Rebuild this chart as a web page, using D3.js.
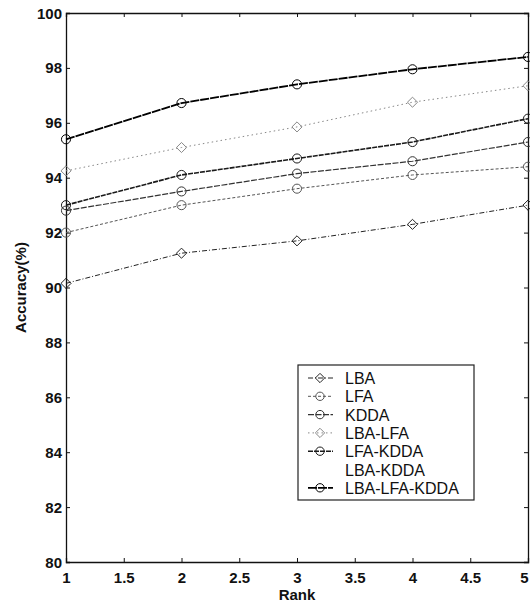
<!DOCTYPE html>
<html>
<head>
<meta charset="utf-8">
<script src="https://cdn.jsdelivr.net/npm/d3@7"></script>
<style>
  body { margin: 0; background: #fff; }
  svg { display: block; }
</style>
</head>
<body>
<svg width="530" height="605"></svg>
<script>
  const ranks = [1, 2, 3, 4, 5];
  const seriesNames = ['LBA', 'LFA', 'KDDA', 'LBA-LFA', 'LFA-KDDA', 'LBA-KDDA', 'LBA-LFA-KDDA'];
  const lba = [90.15, 91.25, 91.7, 92.3, 93.0];
  const lfa = [92.0, 93.0, 93.6, 94.1, 94.4];
  const kdda = [92.8, 93.5, 94.15, 94.6, 95.3];
  const lbaLfa = [94.25, 95.1, 95.85, 96.75, 97.35];
  const lfaKdda = [93.0, 94.1, 94.7, 95.3, 96.15];
  const lbaKdda = [];
  const lbaLfaKdda = [95.4, 96.72, 97.4, 97.95, 98.4];
  const xTicks = [1, 1.5, 2, 2.5, 3, 3.5, 4, 4.5, 5];
  const yTicks = [80, 82, 84, 86, 88, 90, 92, 94, 96, 98, 100];

  const values = [lba, lfa, kdda, lbaLfa, lfaKdda, lbaKdda, lbaLfaKdda];
  const styles = [
    { dash: '5,2,1,2', color: '#222', width: 1, marker: 'diamond' },
    { dash: '3,2', color: '#555', width: 1, marker: 'circle' },
    { dash: '6,1.5', color: '#333', width: 1.2, marker: 'circle' },
    { dash: '1.5,3', color: '#888', width: 1, marker: 'diamond' },
    { dash: '5,1', color: '#1a1a1a', width: 1.6, marker: 'circle' },
    { dash: null, color: 'none', width: 0, marker: null },
    { dash: '9,1', color: '#000', width: 1.8, marker: 'circle' }
  ];

  const font = '"Liberation Sans", Arial, sans-serif';
  const svg = d3.select('svg');
  const margin = { top: 13, right: 2, bottom: 43, left: 66 };
  const width = +svg.attr('width');
  const height = +svg.attr('height');
  const innerWidth = width - margin.left - margin.right;
  const innerHeight = height - margin.top - margin.bottom;

  const xScale = d3.scaleLinear().domain([1, 5]).range([0, innerWidth]);
  const yScale = d3.scaleLinear().domain([80, 100]).range([innerHeight, 0]);

  const g = svg.append('g')
    .attr('transform', `translate(${margin.left},${margin.top})`);

  const fmt = d => String(d);

  const xAxisG = g.append('g')
    .attr('transform', `translate(0,${innerHeight})`)
    .call(d3.axisBottom(xScale).tickValues(xTicks).tickFormat(fmt).tickSize(-4).tickPadding(9));
  const yAxisG = g.append('g')
    .call(d3.axisLeft(yScale).tickValues(yTicks).tickFormat(fmt).tickSize(-4).tickPadding(4));
  const topG = g.append('g')
    .call(d3.axisTop(xScale).tickValues(xTicks).tickSize(-4));
  const rightG = g.append('g')
    .attr('transform', `translate(${innerWidth},0)`)
    .call(d3.axisRight(yScale).tickValues(yTicks).tickSize(-4));
  topG.selectAll('.tick text').remove();
  rightG.selectAll('.tick text').remove();

  g.selectAll('.tick text')
    .attr('font-family', font)
    .attr('font-size', 15)
    .attr('font-weight', 'bold')
    .attr('fill', '#111')
    .attr('dy', null);
  xAxisG.selectAll('.tick text')
    .attr('text-anchor', 'middle')
    .attr('y', 21);
  yAxisG.selectAll('.tick text')
    .attr('text-anchor', 'end')
    .attr('y', 5);
  g.selectAll('.domain').attr('stroke', '#111').attr('stroke-width', 1.3);
  g.selectAll('.tick line').attr('stroke', '#111');
  // keep the last label inside the window
  xAxisG.selectAll('.tick text').filter(d => d === 5).attr('x', -4);

  const line = d3.line()
    .x((d, i) => xScale(ranks[i]))
    .y(d => yScale(d));

  const markerPath = (type, size) => type === 'diamond'
    ? d3.symbol(d3.symbolDiamond2, size)()
    : d3.symbol(d3.symbolCircle, size)();

  values.forEach((vals, k) => {
    const s = styles[k];
    if (!vals.length) return;
    g.append('path')
      .datum(vals)
      .attr('d', line)
      .attr('fill', 'none')
      .attr('stroke', s.color)
      .attr('stroke-width', s.width)
      .attr('stroke-dasharray', s.dash);
    g.selectAll(null)
      .data(vals)
      .enter().append('path')
      .attr('transform', (d, i) => `translate(${xScale(ranks[i])},${yScale(d)})`)
      .attr('d', markerPath(s.marker, 65))
      .attr('fill', 'none')
      .attr('stroke', s.color)
      .attr('stroke-width', 1);
  });

  // legend
  const legend = svg.append('g').attr('transform', 'translate(298,365)');
  legend.append('rect')
    .attr('width', 176).attr('height', 135)
    .attr('fill', '#fff')
    .attr('stroke', '#222')
    .attr('stroke-width', 1.2);
  seriesNames.forEach((name, k) => {
    const s = styles[k];
    const row = legend.append('g').attr('transform', `translate(0,${13 + k * 18.3})`);
    if (s.marker) {
      row.append('line')
        .attr('x1', 10).attr('x2', 35)
        .attr('stroke', s.color)
        .attr('stroke-width', s.width)
        .attr('stroke-dasharray', s.dash);
      row.append('path')
        .attr('transform', 'translate(22,0)')
        .attr('d', markerPath(s.marker, 55))
        .attr('fill', 'none')
        .attr('stroke', s.color);
    }
    row.append('text')
      .attr('x', 47)
      .attr('y', 6)
      .attr('text-anchor', 'start')
      .attr('font-family', font)
      .attr('font-size', 16)
      .attr('fill', '#111')
      .text(name);
  });

  svg.append('text')
    .attr('transform', `translate(26,${margin.top + innerHeight / 2}) rotate(-90)`)
    .attr('text-anchor', 'middle')
    .attr('font-family', font)
    .attr('font-size', 15)
    .attr('font-weight', 'bold')
    .attr('fill', '#111')
    .text('Accuracy(%)');

  svg.append('text')
    .attr('x', margin.left + innerWidth / 2)
    .attr('y', 600)
    .attr('text-anchor', 'middle')
    .attr('font-family', font)
    .attr('font-size', 15)
    .attr('font-weight', 'bold')
    .attr('fill', '#111')
    .text('Rank');
</script>
</body>
</html>
